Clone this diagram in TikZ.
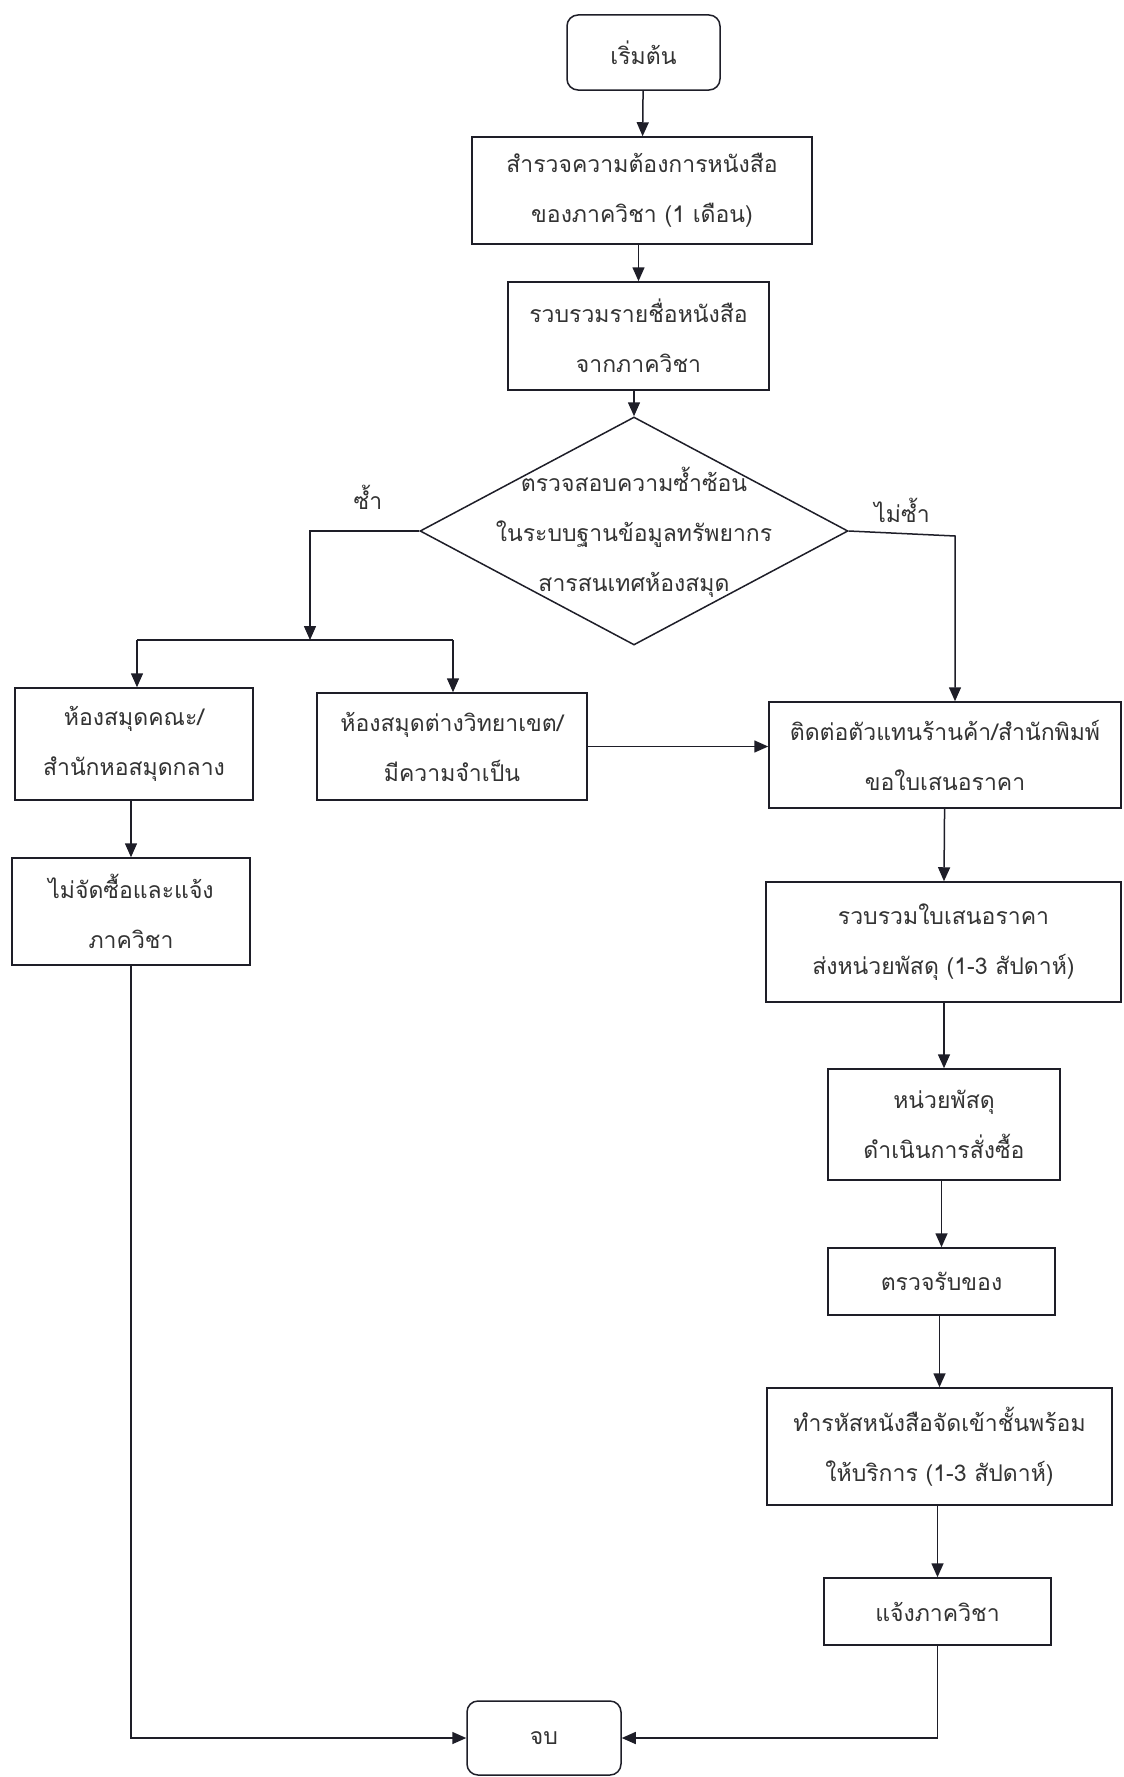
\documentclass[tikz,border=0pt]{standalone}
\usepackage{fontspec}
\newfontfamily\thaifont[Script=Thai]{Loma}
\usetikzlibrary{arrows.meta,shapes.geometric,calc}
\definecolor{linec}{HTML}{1E1E28}
\definecolor{textc}{HTML}{333333}
\begin{document}
\begin{tikzpicture}[x=1pt,y=-1pt,
  txt/.style={font=\thaifont\fontsize{23}{50}\selectfont, text=textc, align=center},
  box/.style={txt, draw=linec, line width=1.5pt, rectangle, inner sep=0pt},
  term/.style={box, rounded corners=11pt},
  arr/.style={draw=linec, line width=1.5pt, -{Triangle[length=14pt,width=12pt]}},
  ln/.style={draw=linec, line width=1.5pt}]
\fill[white] (0,0) rectangle (1124,1777);
\useasboundingbox (0,0) rectangle (1124,1777);

% main column
\node[term, minimum width=153pt, minimum height=75pt] (start) at (643.5,52.5) {เริ่มต้น};
\node[box, minimum width=340pt, minimum height=107pt] (b2) at (642,190.5) {สำรวจความต้องการหนังสือ\\ของภาควิชา (1 เดือน)};
\node[box, minimum width=261pt, minimum height=108pt] (b3) at (638.5,336) {รวบรวมรายชื่อหนังสือ\\จากภาควิชา};
\node[draw=linec, line width=1.5pt, diamond, aspect=1.877, inner sep=0pt, minimum width=428pt, minimum height=228pt] (dia) at (634,531) {};
\node[txt] (diatext) at (634,532) {ตรวจสอบความซ้ำซ้อน\\ในระบบฐานข้อมูลทรัพยากร\\สารสนเทศห้องสมุด};
\node[txt] (lsame) at (368,497) {ซ้ำ};
\node[txt] (lnot) at (902,510) {ไม่ซ้ำ};

% left branch
\node[box, minimum width=238pt, minimum height=112pt] (L1) at (134,744) {ห้องสมุดคณะ/\\สำนักหอสมุดกลาง};
\node[box, minimum width=270pt, minimum height=107pt] (L2) at (452,746.5) {ห้องสมุดต่างวิทยาเขต/\\มีความจำเป็น};
\node[box, minimum width=238pt, minimum height=107pt] (L3) at (131,911.5) {ไม่จัดซื้อและแจ้ง\\ภาควิชา};

% right column
\node[box, minimum width=352pt, minimum height=106pt] (R1) at (945,755) {ติดต่อตัวแทนร้านค้า/สำนักพิมพ์\\ขอใบเสนอราคา};
\node[box, minimum width=355pt, minimum height=120pt] (R2) at (943.5,942) {รวบรวมใบเสนอราคา\\ส่งหน่วยพัสดุ (1-3 สัปดาห์)};
\node[box, minimum width=232pt, minimum height=111pt] (R3) at (944,1124.5) {หน่วยพัสดุ\\ดำเนินการสั่งซื้อ};
\node[box, minimum width=227pt, minimum height=67pt] (R4) at (941.5,1281.5) {ตรวจรับของ};
\node[box, minimum width=345pt, minimum height=117pt] (R5) at (939.5,1446.5) {ทำรหัสหนังสือจัดเข้าชั้นพร้อม\\ให้บริการ (1-3 สัปดาห์)};
\node[box, minimum width=227pt, minimum height=67pt] (R6) at (937.5,1611.5) {แจ้งภาควิชา};
\node[term, minimum width=154pt, minimum height=74pt] (end) at (544,1738) {จบ};

% junction coordinates
\coordinate (j) at (310,640);
\coordinate (ja) at (137,640);
\coordinate (jb) at (453,640);
\coordinate (k) at (955,536);

% connectors
\draw[arr] (start) -- (b2);
\draw[arr] (b3.north |- b2.south) -- (b3.north);
\draw[arr] (dia.north |- b3.south) -- (dia.north);
\draw[arr] (dia.west) -| (j);
\draw[ln] (ja) -- (jb);
\draw[arr] (ja) -- (ja |- L1.north);
\draw[arr] (jb) -- (jb |- L2.north);
\draw[arr] (L3.north |- L1.south) -- (L3.north);
\draw[arr] (L2.east) -- (L2.east -| R1.west);
\draw[arr] (dia.east) -- (k) -- (k |- R1.north);
\draw[arr] (R1) -- (R2);
\draw[arr] (R3.north |- R2.south) -- (R3.north);
\draw[arr] (R4.north |- R3.south) -- (R4.north);
\draw[arr] (R5.north |- R4.south) -- (R5.north);
\draw[arr] (R6.north |- R5.south) -- (R6.north);
\draw[arr] (L3.south) |- (end.west);
\draw[arr] (R6.south) |- (end.east);
\end{tikzpicture}
\end{document}
